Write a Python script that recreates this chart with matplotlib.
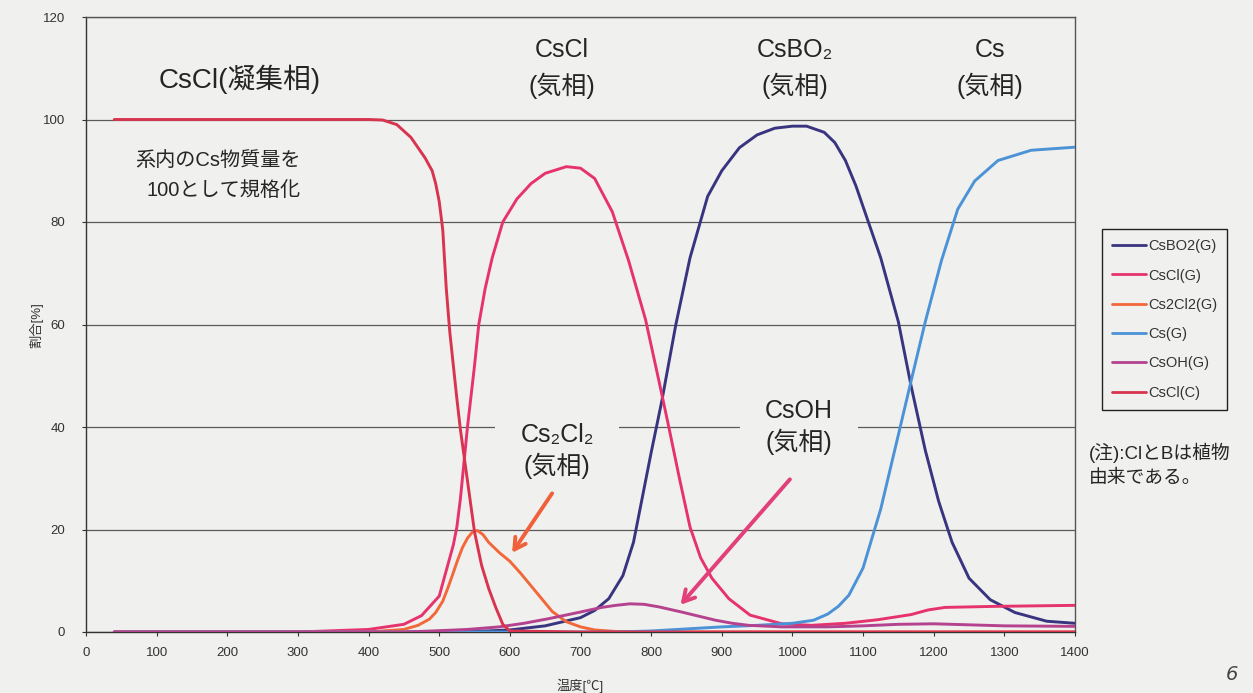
import matplotlib
matplotlib.use("Agg")
import matplotlib.pyplot as plt

plt.rcParams['font.family'] = ['Liberation Sans', 'Noto Sans CJK JP', 'DejaVu Sans']

# ---------------- data ----------------
series_names = ["CsBO2(G)", "CsCl(G)", "Cs2Cl2(G)", "Cs(G)", "CsOH(G)", "CsCl(C)"]

t_csbo2 = [40, 500, 550, 600, 650, 700, 720, 740, 760, 775, 790, 800, 815, 835, 855, 880, 900, 925,
           950, 975, 1000, 1020, 1045, 1060, 1075, 1090, 1105, 1125, 1150, 1168, 1188, 1207, 1226,
           1250, 1280, 1315, 1360, 1400]
v_csbo2 = [0, 0, 0.1, 0.4, 1.2, 2.8, 4.2, 6.5, 11, 17.5, 28, 35, 45, 60, 73, 85, 90, 94.5,
           97, 98.3, 98.7, 98.7, 97.5, 95.5, 92, 87, 81, 73, 60.5, 48, 35.5, 25.5, 17.5,
           10.5, 6.3, 3.8, 2.1, 1.7]

t_cscl_g = [40, 300, 400, 450, 475, 500, 510, 520, 525, 530, 540, 550, 556, 565, 575, 590, 610, 630,
            650, 680, 700, 720, 745, 768, 792, 811, 825, 840, 855, 870, 886, 910, 940, 985, 1027,
            1075, 1121, 1168, 1192, 1216, 1286, 1400]
v_cscl_g = [0, 0, 0.5, 1.5, 3.2, 7, 12, 17, 20.5, 26, 40, 52, 60, 67, 73, 80, 84.5, 87.5,
            89.5, 90.8, 90.5, 88.5, 82, 72.5, 61, 49, 40, 30, 20.5, 14.5, 10.5, 6.5, 3.3, 1.6, 1.3,
            1.7, 2.4, 3.4, 4.3, 4.8, 5.0, 5.2]

t_cs2cl2 = [40, 400, 450, 470, 486, 495, 505, 512, 519, 526, 533, 540, 547, 554, 562, 570, 585, 600,
            615, 630, 645, 660, 680, 700, 720, 750, 800, 1400]
v_cs2cl2 = [0, 0, 0.5, 1.3, 2.5, 3.8, 6, 8.5, 11.2, 14, 16.5, 18.3, 19.5, 19.8, 19, 17.5, 15.5, 13.8,
            11.5, 9, 6.5, 4, 2, 1, 0.4, 0.1, 0, 0]

t_cs = [40, 750, 800, 850, 900, 950, 1000, 1030, 1050, 1065, 1080, 1100, 1125, 1150, 1168, 1188,
        1211, 1234, 1258, 1291, 1338, 1400]
v_cs = [0, 0, 0.2, 0.6, 1.0, 1.3, 1.7, 2.3, 3.5, 5, 7.2, 12.5, 24, 38.5, 49, 60.5,
        72.5, 82.5, 88, 92, 94, 94.6]

t_csoh = [40, 450, 490, 540, 585, 620, 655, 700, 730, 750, 770, 790, 811, 843, 870, 891, 915, 938,
          985, 1050, 1100, 1150, 1200, 1250, 1300, 1400]
v_csoh = [0, 0, 0.2, 0.5, 1.0, 1.7, 2.6, 3.9, 4.8, 5.2, 5.5, 5.4, 4.9, 3.9, 3.0, 2.3, 1.7, 1.3,
          1.0, 1.0, 1.2, 1.5, 1.6, 1.4, 1.2, 1.1]

t_cscl_c = [40, 400, 420, 440, 460, 480, 490, 495, 500, 505, 510, 515, 520, 525, 530, 540, 550, 560,
            570, 580, 590, 600, 700, 800, 900, 1000, 1100, 1200, 1300, 1400]
v_cscl_c = [100, 100, 99.9, 99, 96.5, 92.5, 90, 87.5, 84, 78.5, 67, 58.5, 52, 45.5, 39.5, 29.5, 19.5, 13,
            8.5, 4.8, 1.5, 0.2, 0, 0, 0, 0, 0, 0, 0, 0]

x_ticks = list(range(0, 1401, 100))
y_ticks = list(range(0, 121, 20))

colors = ["#38347f", "#e6336e", "#f2683a", "#4c92d6", "#b4428e", "#d8344f"]

# ---------------- figure ----------------
W, H = 1253, 693
bg = "#f0f0ee"
fig = plt.figure(figsize=(W / 100, H / 100), dpi=100, facecolor=bg)
ax = fig.add_axes([86 / W, 1 - 632 / H, (1075 - 86) / W, (632 - 17) / H], facecolor=bg)


def fx(px):
    return px / W


def fy(py):
    return 1 - py / H


series_t = [t_csbo2, t_cscl_g, t_cs2cl2, t_cs, t_csoh, t_cscl_c]
series_v = [v_csbo2, v_cscl_g, v_cs2cl2, v_cs, v_csoh, v_cscl_c]
for name, tt, vv, c in zip(series_names, series_t, series_v, colors):
    ax.plot(tt, vv, color=c, lw=2.1, label=name, zorder=3,
            solid_capstyle='round', solid_joinstyle='round')

ax.set_xlim(0, 1400)
ax.set_ylim(0, 120)
ax.set_xticks(x_ticks)
ax.set_yticks(y_ticks)
ax.tick_params(axis='both', labelsize=9.5, colors='#333333', length=3, width=0.8)
ax.tick_params(axis='x', pad=8)
ax.tick_params(axis='y', pad=12)
ax.set_axisbelow(True)
ax.yaxis.grid(True, color='#5a5a5a', lw=0.9)
for s in ax.spines.values():
    s.set_color('#555555')
    s.set_linewidth(1.0)
ax.spines['left'].set_color('#333333')
ax.spines['bottom'].set_color('#333333')

ax.set_xlabel("温度[℃]", fontsize=9.5, color='#333333', labelpad=14)
fig.text(fx(36), fy(325), "割合[%]", rotation=90, fontsize=9.5, color='#333333',
         ha='center', va='center')

# annotations
tc = '#252525'
ax.text(fx(240), fy(79), "CsCl(凝集相)", transform=fig.transFigure, fontsize=20,
        ha='center', va='center', color=tc)
ax.text(fx(301), fy(160), "系内のCs物質量を", transform=fig.transFigure, fontsize=14.5,
        ha='right', va='center', color=tc)
ax.text(fx(301), fy(190), "100として規格化", transform=fig.transFigure, fontsize=14.5,
        ha='right', va='center', color=tc)

for cx, l1 in [(562, "CsCl"), (795, "CsBO₂"), (990, "Cs")]:
    ax.text(fx(cx), fy(50), l1, transform=fig.transFigure, fontsize=18, ha='center',
            va='center', color=tc)
    ax.text(fx(cx), fy(86), "(気相)", transform=fig.transFigure, fontsize=18, ha='center',
            va='center', color=tc)

box = dict(boxstyle='square,pad=1.0', fc=bg, ec='none')
ax.text(fx(557), fy(451), "Cs₂Cl₂\n(気相)", transform=fig.transFigure, fontsize=18,
        ha='center', va='center', color=tc, linespacing=1.3, bbox=box, zorder=1)
ax.text(fx(799), fy(427), "CsOH\n(気相)", transform=fig.transFigure, fontsize=18,
        ha='center', va='center', color=tc, linespacing=1.3, bbox=box, zorder=1)

ax.annotate("", xy=(601, 15), xytext=(662, 27.5),
            arrowprops=dict(arrowstyle='->,head_length=0.8,head_width=0.45',
                            color='#f0603a', lw=2.8), zorder=4)
ax.annotate("", xy=(839, 4.9), xytext=(999, 30.2),
            arrowprops=dict(arrowstyle='->,head_length=0.8,head_width=0.45',
                            color='#e2407a', lw=2.8), zorder=4)

leg = fig.legend(loc='upper left', bbox_to_anchor=(fx(1102), fy(229)),
                 bbox_transform=fig.transFigure, fontsize=10.5, frameon=True, fancybox=False,
                 edgecolor='#222222', facecolor=bg, framealpha=1, handlelength=2.3,
                 handletextpad=0.15, labelspacing=1.05, borderpad=0.7, borderaxespad=0)
leg.get_frame().set_linewidth(1.0)
for t in leg.get_texts():
    t.set_color('#333333')
for h in leg.get_lines():
    h.set_linewidth(2.0)

fig.text(fx(1089), fy(453), "(注):ClとBは植物", fontsize=13.5, ha='left', va='center', color=tc)
fig.text(fx(1089), fy(478), "由来である。", fontsize=13.5, ha='left', va='center', color=tc)
fig.text(fx(1232), fy(675), "6", fontsize=14, style='italic', ha='center', va='center',
         color='#444444', family='DejaVu Sans')

fig.savefig("out.png", dpi=100, facecolor=bg)
